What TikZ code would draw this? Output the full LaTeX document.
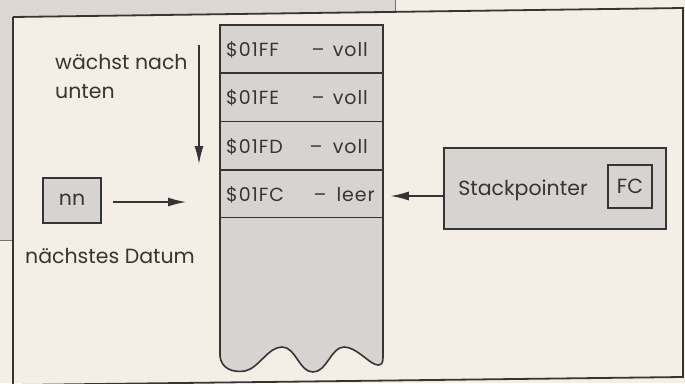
\documentclass[tikz,border=0pt]{standalone}
\usepackage{fontspec}
\setmainfont{Poppins}
\newfontfamily\cellfont[LetterSpace=5]{Poppins}
\usetikzlibrary{arrows.meta}
\definecolor{paper}{HTML}{F4EEE6}
\definecolor{scan}{HTML}{DCD7D2}
\definecolor{boxgrey}{HTML}{D7D3D0}
\definecolor{ink}{HTML}{363534}
\tikzset{
  cell/.style={draw=ink, line width=1.6pt, fill=boxgrey, minimum width=163pt, minimum height=48.25pt, inner sep=0pt},
  celltext/.style={text=ink, font=\cellfont\fontsize{19}{22}\selectfont, inner sep=0pt},
  greybox/.style={draw=ink, line width=1.6pt, fill=boxgrey, inner sep=0pt},
  lbl/.style={text=ink, font=\fontsize{20.5}{24}\selectfont, inner sep=0pt},
  arr/.style={draw=ink, line width=1.3pt, -{Latex[length=18pt,width=9pt]}},
}
\begin{document}
\begin{tikzpicture}[x=1pt,y=-1pt]
\useasboundingbox (0,0) rectangle (685,383);
% paper and scan border
\fill[paper] (0,0) rectangle (685,383);
\fill[scan] (0,0) -- (395,0) -- (395,13) -- (13,17) -- (13,240) -- (0,240) -- cycle;
\draw[ink!70, line width=1pt] (395,0) -- (395,13);
\draw[ink!70, line width=1pt] (0,240) -- (12,240);
% frame
\draw[ink, line width=1.8pt] (13,17) -- (683,8) -- (683,377) -- (13,385);
\draw[ink, line width=1.8pt] (13,17) -- (13,385);
% stack column
\node[cell] (c1) at (301.5,49.125) {};
\node[cell] (c2) at (301.5,97.375) {};
\node[cell] (c3) at (301.5,145.625) {};
\node[cell] (c4) at (301.5,193.875) {};
\node[celltext, anchor=base west] (a1) at (226,56) {\$01FF};
\node[celltext, anchor=base] (d1) at (318,56) {–};
\node[celltext, anchor=base east] (w1) at (368,56) {voll};
\node[celltext, anchor=base west] (a2) at (226,104) {\$01FE};
\node[celltext, anchor=base] (d2) at (318,104) {–};
\node[celltext, anchor=base east] (w2) at (368,104) {voll};
\node[celltext, anchor=base west] (a3) at (226,153) {\$01FD};
\node[celltext, anchor=base] (d3) at (316,153) {–};
\node[celltext, anchor=base east] (w3) at (368,153) {voll};
\node[celltext, anchor=base west] (a4) at (226,201) {\$01FC};
\node[celltext, anchor=base] (d4) at (320,201) {–};
\node[celltext, anchor=base east] (w4) at (375,201) {leer};
\draw[ink, line width=1.6pt, fill=boxgrey] (220,218) -- (220,356)
  .. controls (221,368) and (232,373) .. (245,371)
  .. controls (259,368) and (268,347) .. (282,347)
  .. controls (296,347) and (299,372) .. (313,372)
  .. controls (327,372) and (331,347) .. (344,347)
  .. controls (357,347) and (370,365) .. (378,365)
  .. controls (382,365) and (383,362) .. (383,357) -- (383,218);
% left side
\node[lbl, anchor=base west] (grow1) at (55,69) {wächst nach};
\node[lbl, anchor=base west] (grow2) at (55,98) {unten};
\coordinate (gtop) at (199,45);
\coordinate (gtip) at (199,164);
\draw[arr] (gtop) -- (gtip);
\node[greybox, minimum width=58pt, minimum height=45pt] (nn) at (72,200.5) {};
\node[lbl, anchor=base] (nnt) at (72,205) {nn};
\coordinate (ntip) at (186,202);
\draw[arr] (113,202) -- (ntip);
\node[lbl, anchor=base west] (next) at (25,263) {nächstes Datum};
% stack pointer
\node[greybox, minimum width=222pt, minimum height=81pt] (sp) at (555,188.5) {};
\node[lbl, anchor=base] (spt) at (523,195) {Stackpointer};
\node[greybox, fill=none, minimum width=44pt, minimum height=43pt] (fc) at (630,186.5) {};
\node[lbl, anchor=base] (fct) at (630,193) {FC};
\draw[arr] (sp.west |- 0,196) -- ([xshift=7pt]c4.east |- 0,196);
\end{tikzpicture}
\end{document}
